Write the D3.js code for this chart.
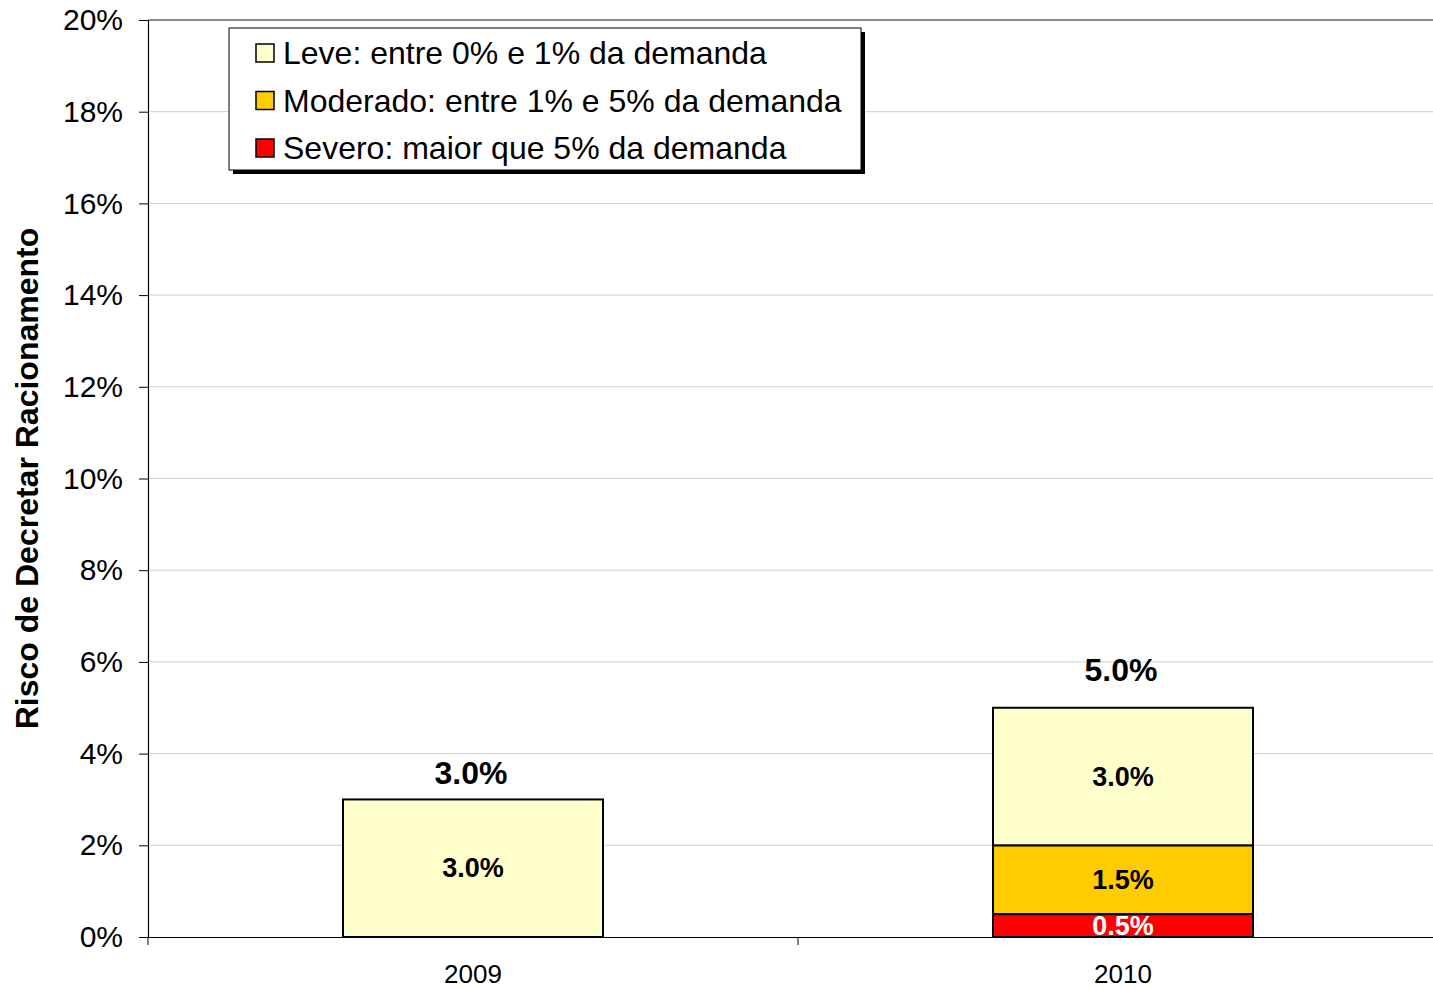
<!DOCTYPE html>
<html>
<head>
<meta charset="utf-8">
<script src="https://cdn.jsdelivr.net/npm/d3@7"></script>
<style>
  body { margin: 0; background: #fff; }
  svg { font-family: "Liberation Sans", Arial, sans-serif; }
</style>
</head>
<body>
<div id="chart"></div>
<script>
// data
const years = ["2009", "2010"];
const seriesNames = ["Severo: maior que 5% da demanda", "Moderado: entre 1% e 5% da demanda", "Leve: entre 0% e 1% da demanda"];
const seriesKeys = ["severo", "moderado", "leve"];
const severoValues = [0, 0.5];
const moderadoValues = [0, 1.5];
const leveValues = [3.0, 3.0];
const totalValues = [3.0, 5.0];
const yTicks = [0, 2, 4, 6, 8, 10, 12, 14, 16, 18, 20];

const colors = { leve: "#ffffcc", moderado: "#ffcc00", severo: "#ff0000" };
// gap between bar top and total label baseline (as in the original)
const totalGap = [15, 27];

const rows = years.map((y, i) => ({
    year: y,
    severo: severoValues[i],
    moderado: moderadoValues[i],
    leve: leveValues[i],
    total: totalValues[i],
    gap: totalGap[i]
}));

const width = 1433, height = 989;
const margin = { top: 20, left: 148, bottom: 52 };
const plotRight = 1448; // plot runs past the visible edge

const svg = d3.select("#chart").append("svg")
    .attr("width", width)
    .attr("height", height);

const x = d3.scaleBand()
    .domain(years)
    .range([margin.left, plotRight])
    .padding(0);

const y = d3.scaleLinear()
    .domain([0, 20])
    .range([height - margin.bottom, margin.top]);

// gridlines
svg.append("g")
    .selectAll("line")
    .data(yTicks.filter(d => d > 0))
    .join("line")
    .attr("x1", margin.left)
    .attr("x2", width)
    .attr("y1", d => y(d))
    .attr("y2", d => y(d))
    .attr("stroke", d => d === 20 ? "#8c8c8c" : "#d0d0d0")
    .attr("stroke-width", d => d === 20 ? 2 : 1);

// y axis
const yAxis = d3.axisLeft(y)
    .tickValues(yTicks)
    .tickFormat(d => d + "%")
    .tickSize(9)
    .tickPadding(16);

const yg = svg.append("g")
    .attr("transform", `translate(${margin.left},0)`)
    .call(yAxis);
yg.select(".domain").attr("stroke", "#000").attr("stroke-width", 1.2);
yg.selectAll(".tick line").attr("stroke", "#000");
yg.selectAll(".tick text")
    .attr("font-size", 30)
    .attr("fill", "#000")
    .attr("font-family", "Liberation Sans, Arial, sans-serif");

// stacked bars
const stack = d3.stack().keys(seriesKeys);
const stacked = stack(rows);
const barW = x.bandwidth() * 0.4;

const layers = svg.append("g")
    .selectAll("g")
    .data(stacked)
    .join("g")
    .attr("fill", d => colors[d.key]);

layers.selectAll("rect")
    .data(d => d.filter(s => s[1] - s[0] > 0))
    .join("rect")
    .attr("x", d => x(d.data.year) + (x.bandwidth() - barW) / 2)
    .attr("y", d => y(d[1]))
    .attr("width", barW)
    .attr("height", d => y(d[0]) - y(d[1]))
    .attr("stroke", "#000")
    .attr("stroke-width", 2);

// segment labels
stacked.forEach(layer => {
    svg.append("g")
        .selectAll("text")
        .data(layer.filter(s => s[1] - s[0] > 0))
        .join("text")
        .attr("x", d => x(d.data.year) + x.bandwidth() / 2)
        .attr("y", d => (y(d[0]) + y(d[1])) / 2 + 9)
        .attr("text-anchor", "middle")
        .attr("font-size", 27)
        .attr("font-weight", "bold")
        .attr("fill", layer.key === "severo" ? "#fff" : "#000")
        .text(d => (d[1] - d[0]).toFixed(1) + "%");
});

// x axis
const xAxis = d3.axisBottom(x).tickSize(0).tickPadding(28);
const xg = svg.append("g")
    .attr("transform", `translate(0,${y(0)})`)
    .call(xAxis);
xg.select(".domain").attr("stroke", "#000").attr("stroke-width", 1.2);
xg.selectAll(".tick text")
    .attr("font-size", 26)
    .attr("fill", "#000")
    .attr("font-family", "Liberation Sans, Arial, sans-serif");
// category separator ticks
xg.selectAll("line.sep")
    .data([margin.left, x("2010")])
    .join("line")
    .attr("class", "sep")
    .attr("x1", d => d).attr("x2", d => d)
    .attr("y1", 0).attr("y2", 8)
    .attr("stroke", "#000");

// total labels
svg.append("g")
    .selectAll("text")
    .data(rows)
    .join("text")
    .attr("x", d => x(d.year) + x.bandwidth() / 2 - 2)
    .attr("y", d => y(d.total) - d.gap)
    .attr("text-anchor", "middle")
    .attr("font-size", 32)
    .attr("font-weight", "bold")
    .text(d => d.total.toFixed(1) + "%");

// y axis title
svg.append("text")
    .attr("transform", `translate(38,${(y(0) + y(20)) / 2}) rotate(-90)`)
    .attr("text-anchor", "middle")
    .attr("font-size", 32)
    .attr("font-weight", "bold")
    .text("Risco de Decretar Racionamento");

// legend
const legend = svg.append("g").attr("transform", "translate(229,28)");
const legW = 632, legH = 142;
legend.append("rect")
    .attr("x", 4).attr("y", 4)
    .attr("width", legW).attr("height", legH)
    .attr("fill", "#000");
legend.append("rect")
    .attr("width", legW).attr("height", legH)
    .attr("fill", "#fff")
    .attr("stroke", "#000")
    .attr("stroke-width", 1);

const legendItems = seriesKeys.map((k, i) => ({ key: k, name: seriesNames[i] })).reverse();
const li = legend.selectAll("g.item")
    .data(legendItems)
    .join("g")
    .attr("class", "item")
    .attr("transform", (d, i) => `translate(27,${25 + i * 47.5})`);
li.append("rect")
    .attr("x", 0).attr("y", -9)
    .attr("width", 18).attr("height", 18)
    .attr("fill", d => colors[d.key])
    .attr("stroke", "#000")
    .attr("stroke-width", 1.5);
li.append("text")
    .attr("x", 27)
    .attr("y", 11)
    .attr("font-size", 32)
    .text(d => d.name);
</script>
</body>
</html>
